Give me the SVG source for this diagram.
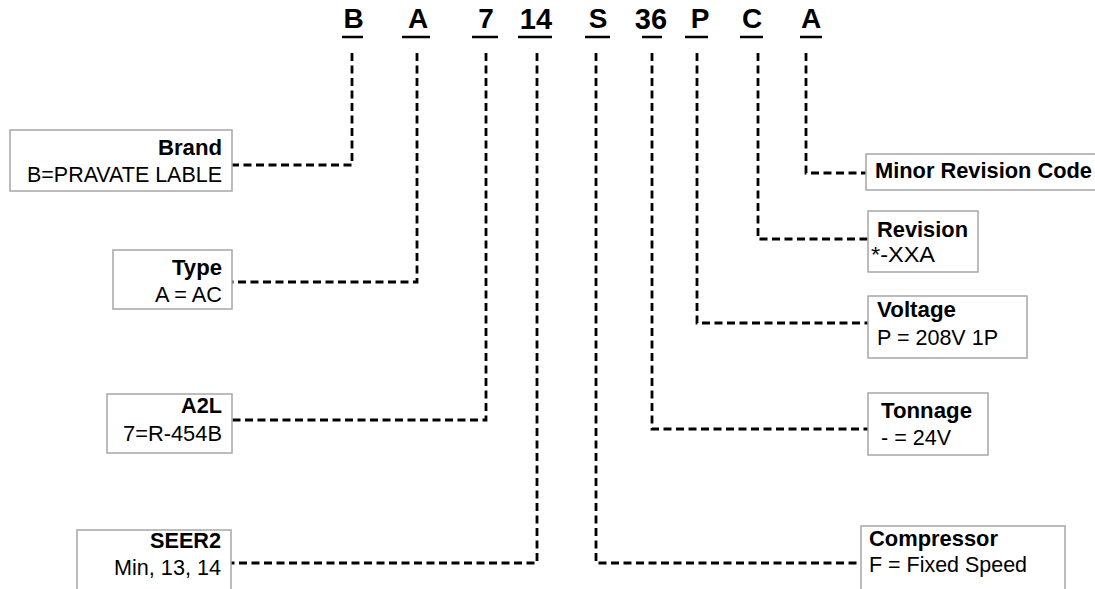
<svg xmlns="http://www.w3.org/2000/svg" width="1095" height="589" viewBox="0 0 1095 589">
<style>
.code{font-family:"Liberation Sans",Arial,sans-serif;font-weight:bold;font-size:28px;fill:#000;text-anchor:middle}
.code2{font-size:29px}
.ul{stroke:#000;stroke-width:2.5}
.box{fill:#fff;stroke:#a6a6a6;stroke-width:1.5}
.t{font-family:"Liberation Sans",Arial,sans-serif;font-size:21.5px;fill:#000}
.b{font-weight:bold;font-size:22px}
.con{fill:none;stroke:#000;stroke-width:2.8;stroke-dasharray:8 4.5}
</style>
<rect width="1095" height="589" fill="#fff"/>
<g id="code">
<text class="code" x="353.5" y="28">B</text>
<text class="code" x="418" y="28">A</text>
<text class="code" x="486" y="28">7</text>
<text class="code code2" x="536" y="29">14</text>
<text class="code" x="598" y="28">S</text>
<text class="code code2" x="651" y="29">36</text>
<text class="code" x="700" y="28">P</text>
<text class="code" x="752" y="28">C</text>
<text class="code" x="811" y="28">A</text>
<line class="ul" x1="342" y1="37" x2="363" y2="37"/>
<line class="ul" x1="402" y1="37" x2="430" y2="37"/>
<line class="ul" x1="472" y1="37" x2="498" y2="37"/>
<line class="ul" x1="518" y1="37" x2="552" y2="37"/>
<line class="ul" x1="585" y1="37" x2="610" y2="37"/>
<line class="ul" x1="642" y1="37" x2="662" y2="37"/>
<line class="ul" x1="685" y1="37" x2="708" y2="37"/>
<line class="ul" x1="740" y1="37" x2="763" y2="37"/>
<line class="ul" x1="800" y1="37" x2="822" y2="37"/>
</g>
<g id="connectors">
<path class="con" d="M352 53V165H232"/>
<path class="con" d="M417 53V282H232"/>
<path class="con" d="M486 53V420H232"/>
<path class="con" d="M537 53V563H231"/>
<path class="con" d="M596 53V563H861"/>
<path class="con" d="M652 53V429H868"/>
<path class="con" d="M697 53V323H868"/>
<path class="con" d="M758 53V239H868"/>
<path class="con" d="M806 53V173H866"/>
</g>
<g id="brand">
<rect class="box" x="10" y="130" width="222" height="61"/>
<text class="t b" x="158" y="155" textLength="64" lengthAdjust="spacingAndGlyphs">Brand</text>
<text class="t" x="27" y="182" textLength="195" lengthAdjust="spacingAndGlyphs">B=PRAVATE LABLE</text>
</g>
<g id="type">
<rect class="box" x="113" y="250" width="119" height="59"/>
<text class="t b" x="172" y="275" textLength="50" lengthAdjust="spacingAndGlyphs">Type</text>
<text class="t" x="155" y="302" textLength="67" lengthAdjust="spacingAndGlyphs">A = AC</text>
</g>
<g id="a2l">
<rect class="box" x="107" y="394" width="125" height="59"/>
<text class="t b" x="181" y="413" textLength="41" lengthAdjust="spacingAndGlyphs">A2L</text>
<text class="t" x="123" y="441" textLength="99" lengthAdjust="spacingAndGlyphs">7=R-454B</text>
</g>
<g id="seer2">
<rect class="box" x="77" y="530" width="154" height="70"/>
<text class="t b" x="150" y="548" textLength="71" lengthAdjust="spacingAndGlyphs">SEER2</text>
<text class="t" x="114" y="575" textLength="107" lengthAdjust="spacingAndGlyphs">Min, 13, 14</text>
</g>
<g id="minor-revision">
<rect class="box" x="866" y="154" width="240" height="36"/>
<text class="t b" x="875" y="178" textLength="217" lengthAdjust="spacingAndGlyphs">Minor Revision Code</text>
</g>
<g id="revision">
<rect class="box" x="868" y="211" width="110" height="61"/>
<text class="t b" x="877" y="237" textLength="91" lengthAdjust="spacingAndGlyphs">Revision</text>
<text class="t" x="871" y="262" textLength="64" lengthAdjust="spacingAndGlyphs">*-XXA</text>
</g>
<g id="voltage">
<rect class="box" x="868" y="296" width="159" height="62"/>
<text class="t b" x="877" y="317" textLength="79" lengthAdjust="spacingAndGlyphs">Voltage</text>
<text class="t" x="877" y="345" textLength="121" lengthAdjust="spacingAndGlyphs">P = 208V 1P</text>
</g>
<g id="tonnage">
<rect class="box" x="868" y="393" width="120" height="62"/>
<text class="t b" x="881" y="418" textLength="91" lengthAdjust="spacingAndGlyphs">Tonnage</text>
<text class="t" x="881" y="445" textLength="70" lengthAdjust="spacingAndGlyphs">- = 24V</text>
</g>
<g id="compressor">
<rect class="box" x="861" y="526" width="204" height="70"/>
<text class="t b" x="869" y="546" textLength="129" lengthAdjust="spacingAndGlyphs">Compressor</text>
<text class="t" x="869" y="572" textLength="158" lengthAdjust="spacingAndGlyphs">F = Fixed Speed</text>
</g>
</svg>
